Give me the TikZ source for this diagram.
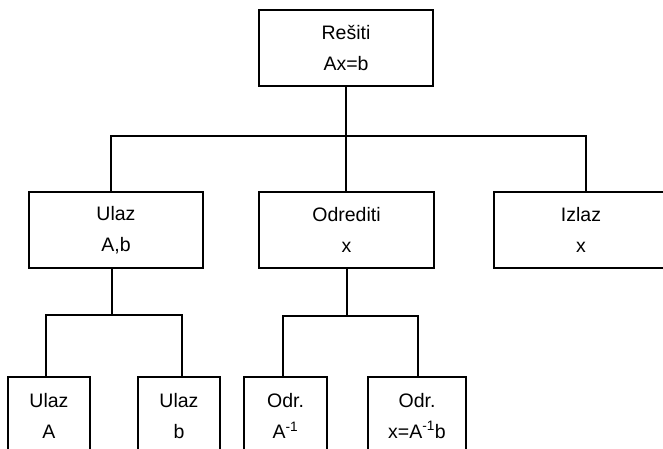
\documentclass[tikz,border=0pt]{standalone}
\usepackage{fontspec}
\setmainfont{Liberation Sans}
\begin{document}
\begin{tikzpicture}[x=1pt,y=-1pt,
  box/.style={draw, line width=1.6pt, minimum height=76pt, inner sep=0pt,
    align=center, font=\fontsize{19.5}{31}\selectfont},
  link/.style={line width=1.6pt}]
\useasboundingbox (0,0) rectangle (663,448);
\clip (0,0) rectangle (663,448);

% root
\node[box, minimum width=174pt] (resiti) at (346,48) {Rešiti\\Ax=b};

% second level
\node[box, minimum width=174pt] (ulaz) at (116,230) {Ulaz\\A,b};
\node[box, minimum width=175pt] (odrediti) at (346.5,230) {Odrediti\\x};
\node[box, minimum width=174pt] (izlaz) at (581,230) {Izlaz\\x};

% third level (runs past the lower edge)
\node[box, minimum width=82pt, minimum height=78pt] (ulazA) at (49,416) {Ulaz\\A};
\node[box, minimum width=82pt, minimum height=78pt] (ulazb) at (179,416) {Ulaz\\b};
\node[box, minimum width=83pt, minimum height=78pt] (odrA) at (285.5,416) {Odr.\\A\textsuperscript{-1}};
\node[box, minimum width=98pt, minimum height=78pt] (odrx) at (417,416) {Odr.\\x=A\textsuperscript{-1}b};

% junctions
\coordinate (busTop) at (346,136);
\coordinate (busL) at (112,315);
\coordinate (busR) at (347,316);

% connectors
\draw[link] (resiti.south) -- (busTop);
\draw[link] (busTop) -- (busTop |- odrediti.north);
\draw[link] ([xshift=-5pt]ulaz.north) |- (busTop) -| ([xshift=5pt]izlaz.north);

\draw[link] ([xshift=-4pt]ulaz.south) -- (busL);
\draw[link] ([xshift=-3pt]ulazA.north) |- (busL) -| ([xshift=3pt]ulazb.north);

\draw[link] (busR |- odrediti.south) -- (busR);
\draw[link] ([xshift=-2.5pt]odrA.north) |- (busR) -| ([xshift=1pt]odrx.north);
\end{tikzpicture}
\end{document}
